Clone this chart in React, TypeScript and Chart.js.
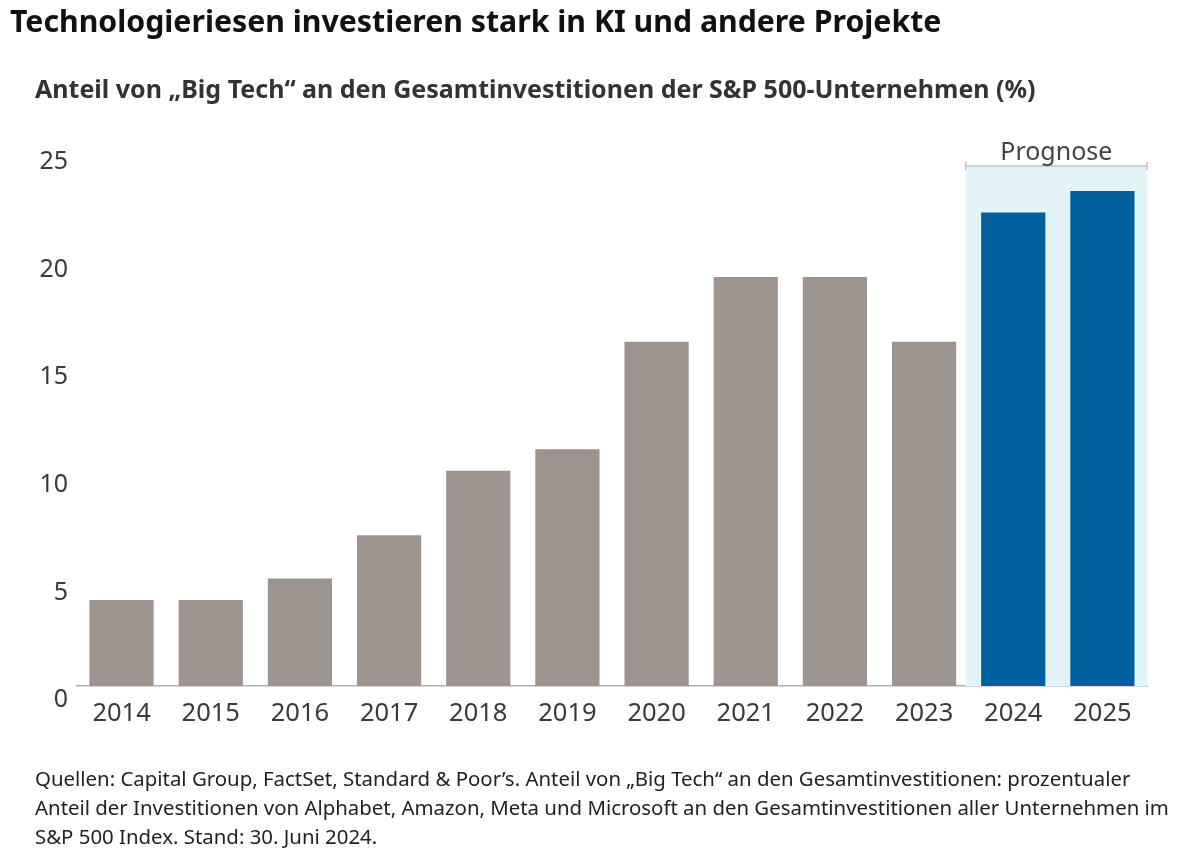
import React, { useEffect, useRef } from "react";
import { Chart, registerables } from "chart.js";

Chart.register(...registerables);

const years = ["2014", "2015", "2016", "2017", "2018", "2019", "2020", "2021", "2022", "2023", "2024", "2025"];
const shareValues = [4, 4, 5, 7, 10, 11, 16, 19, 19, 16, 22, 23];
const isForecast = [false, false, false, false, false, false, false, false, false, false, true, true];
const yTicks = [0, 5, 10, 15, 20, 25];
const forecastLabel = "Prognose";

const titleText = "Technologieriesen investieren stark in KI und andere Projekte";
const subtitleText = "Anteil von \u201EBig Tech\u201C an den Gesamtinvestitionen der S&P 500-Unternehmen (%)";
const footLines = [
  "Quellen: Capital Group, FactSet, Standard & Poor\u2019s. Anteil von \u201EBig Tech\u201C an den Gesamtinvestitionen: prozentualer",
  "Anteil der Investitionen von Alphabet, Amazon, Meta und Microsoft an den Gesamtinvestitionen aller Unternehmen im",
  "S&P 500 Index. Stand: 30. Juni 2024.",
];

const FONT = "'Noto Sans', Lato, sans-serif";
const GRAY = "#9d9490";
const BLUE = "#005f9e";
const BAND = "#e3f4f8";

function bandLeft(chart: any) {
  const first = isForecast.indexOf(true);
  const sx = chart.scales.x;
  return (sx.getPixelForValue(first - 1) + sx.getPixelForValue(first)) / 2 - 3;
}

const forecastPlugin = {
  id: "forecastBand",
  beforeDatasetsDraw(chart: any) {
    const { ctx, chartArea } = chart;
    if (isForecast.indexOf(true) < 1) return;
    const x0 = bandLeft(chart);
    const x1 = chartArea.right;
    const top = chartArea.top + 18;
    ctx.save();
    ctx.fillStyle = BAND;
    ctx.fillRect(x0, top, x1 - x0, chartArea.bottom - top);
    ctx.restore();
  },
  afterDraw(chart: any) {
    const { ctx, chartArea } = chart;
    if (isForecast.indexOf(true) < 1) return;
    const x0 = bandLeft(chart);
    const x1 = chartArea.right;
    const y = chartArea.top + 18;
    ctx.save();
    ctx.strokeStyle = "#c4c4c4";
    ctx.lineWidth = 1.5;
    ctx.beginPath();
    ctx.moveTo(x0, y);
    ctx.lineTo(x1, y);
    ctx.moveTo(x0, y - 4);
    ctx.lineTo(x0, y + 4);
    ctx.moveTo(x1, y - 4);
    ctx.lineTo(x1, y + 4);
    ctx.stroke();
    ctx.fillStyle = "#444";
    ctx.font = "25px " + FONT;
    ctx.textAlign = "center";
    ctx.textBaseline = "alphabetic";
    ctx.fillText(forecastLabel, (x0 + x1) / 2, y - 6);
    ctx.restore();
  },
};

export default function App() {
  const canvasRef = useRef<HTMLCanvasElement | null>(null);

  useEffect(() => {
    if (!canvasRef.current) return;
    const chart = new Chart(canvasRef.current, {
      type: "bar",
      data: {
        labels: years,
        datasets: [
          {
            data: shareValues,
            backgroundColor: isForecast.map((f) => (f ? BLUE : GRAY)),
            barPercentage: 0.72,
            categoryPercentage: 1,
          },
        ],
      },
      options: {
        animation: false,
        responsive: false,
        maintainAspectRatio: false,
        layout: { padding: { left: 0, right: 32, top: 148, bottom: 0 } },
        plugins: {
          legend: { display: false },
          tooltip: { enabled: false },
          title: { display: false },
        },
        scales: {
          x: {
            grid: { display: false },
            border: { display: true, color: "#b0b0b0", width: 1.5 },
            ticks: {
              color: "#3a3a3a",
              font: { family: FONT, size: 25.5 },
              padding: 4,
              maxRotation: 0,
            },
            afterFit(scale: any) {
              scale.height = 174;
            },
          },
          y: {
            min: 0,
            max: 25,
            grid: { display: false },
            border: { display: false },
            afterBuildTicks(scale: any) {
              scale.ticks = yTicks.map((v) => ({ value: v }));
            },
            ticks: {
              color: "#3a3a3a",
              font: { family: FONT, size: 25 },
              padding: 1,
              labelOffset: 14,
            },
            afterFit(scale: any) {
              scale.width = 77;
            },
          },
        },
      },
      plugins: [forecastPlugin],
    });
    return () => chart.destroy();
  }, []);

  return (
    <div style={{ position: "fixed", left: 0, top: 0, width: 1179, height: 860, background: "#fff", overflow: "hidden" }}>
      <canvas ref={canvasRef} width={1179} height={860} style={{ position: "absolute", left: 0, top: 0, width: 1179, height: 860 }} />
      <div style={{ position: "absolute", left: 10, top: 0, fontFamily: FONT, fontWeight: 700, fontSize: 30.25, color: "#111", whiteSpace: "nowrap" }}>
        {titleText}
      </div>
      <div style={{ position: "absolute", left: 35, top: 71, fontFamily: FONT, fontWeight: 700, fontSize: 25, color: "#333", whiteSpace: "nowrap" }}>
        {subtitleText}
      </div>
      <div style={{ position: "absolute", left: 35, top: 764, fontFamily: FONT, fontSize: 20.4, lineHeight: "29px", color: "#222", whiteSpace: "nowrap" }}>
        {footLines.map((l, i) => (
          <div key={i}>{l}</div>
        ))}
      </div>
    </div>
  );
}
